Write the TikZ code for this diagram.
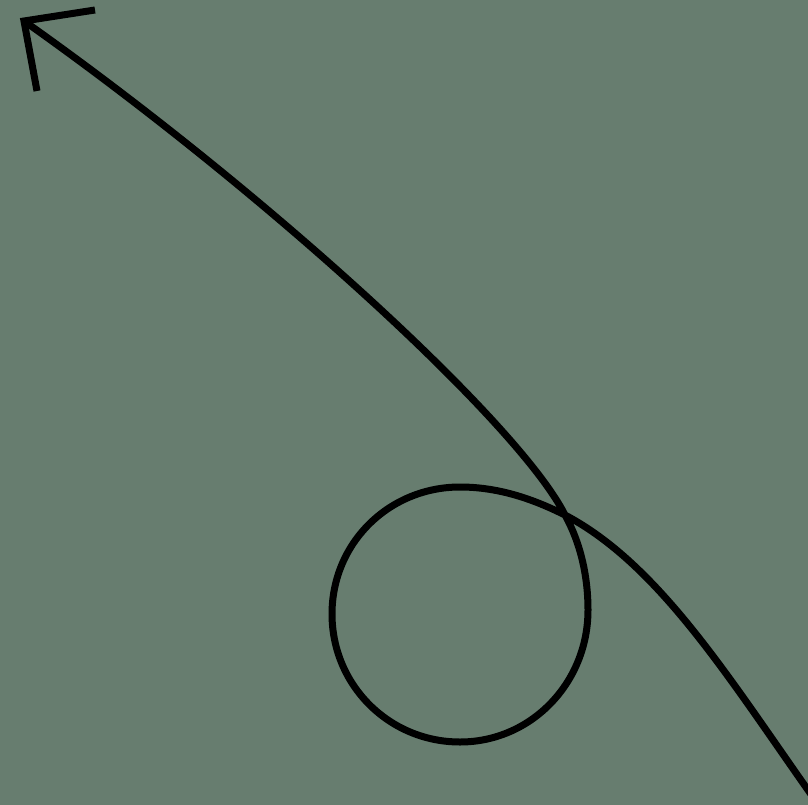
\documentclass[tikz,border=0pt]{standalone}
\begin{document}
\begin{tikzpicture}[x=1pt,y=-1pt,line width=7pt]
\definecolor{bg}{RGB}{103,125,111}
\tikzset{curve/.style={draw=black,line width=7pt}}
\fill[bg] (0,0) rectangle (808,805);
\useasboundingbox (0,0) rectangle (808,805);
\begin{scope}
\clip (0,0) rectangle (808,805);
\draw[curve] (815,800) .. controls (730,680) and (660,565) .. (565,515)
  .. controls (535,500) and (500,487) .. (460,487)
  .. controls (389,487) and (332,543) .. (332,614)
  .. controls (332,685) and (389,742) .. (460,742)
  .. controls (531,742) and (588,683) .. (588,610)
  .. controls (588,575) and (580,542) .. (565,515)
  .. controls (520,425) and (270,195) .. (24,21);
\draw[curve,line join=miter] (95,10) -- (24,21) -- (37,91);
\end{scope}
\end{tikzpicture}
\end{document}
